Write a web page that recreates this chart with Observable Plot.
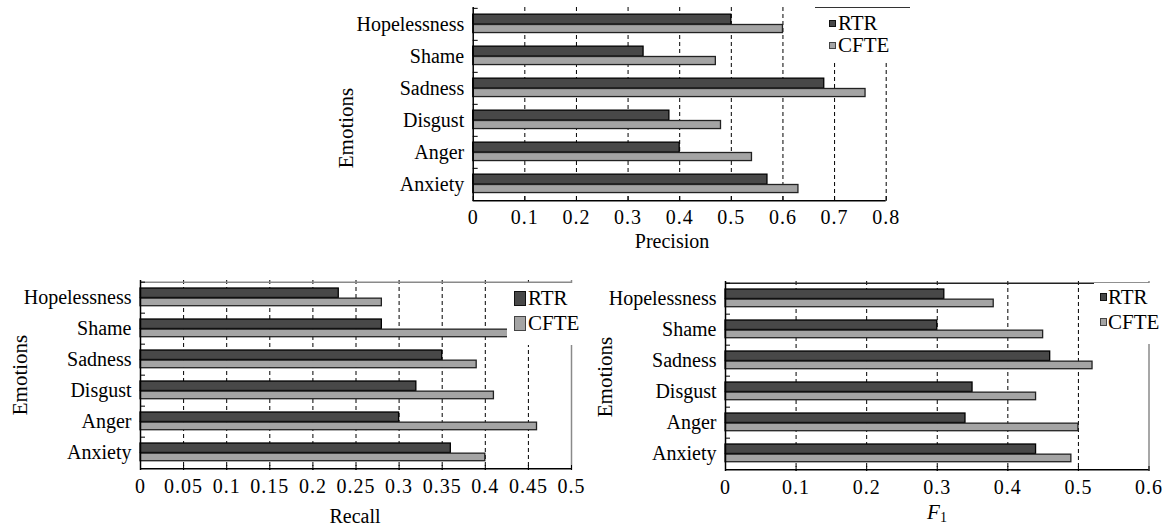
<!DOCTYPE html>
<html>
<head>
<meta charset="utf-8">
<script src="https://cdn.jsdelivr.net/npm/d3@7"></script>
<script src="https://cdn.jsdelivr.net/npm/@observablehq/plot@0.6"></script>
<style>
  html, body { margin: 0; padding: 0; background: white; }
  #root { position: relative; width: 1168px; height: 528px; overflow: hidden; background: white;
          font-family: "Liberation Serif", "DejaVu Serif", serif; color: black; }
  #root div, #root span, #root i { font-family: "Liberation Serif", "DejaVu Serif", serif; }
  #root svg text { font-family: "Liberation Serif", "DejaVu Serif", serif !important; }
  .panel { position: absolute; }
  .lbl { position: absolute; white-space: nowrap; line-height: 1; }
  .legend { position: absolute; background: white; }
</style>
</head>
<body>
<div id="root"></div>
<script>
// ---------- data ----------
const emotions = ["Hopelessness", "Shame", "Sadness", "Disgust", "Anger", "Anxiety"];
const seriesNames = ["RTR", "CFTE"];
const precisionRTR  = [0.50, 0.33, 0.68, 0.38, 0.40, 0.57];
const precisionCFTE = [0.60, 0.47, 0.76, 0.48, 0.54, 0.63];
const recallRTR     = [0.23, 0.28, 0.35, 0.32, 0.30, 0.36];
const recallCFTE    = [0.28, 0.43, 0.39, 0.41, 0.46, 0.40];
const f1RTR         = [0.31, 0.30, 0.46, 0.35, 0.34, 0.44];
const f1CFTE        = [0.38, 0.45, 0.52, 0.44, 0.50, 0.49];
const precisionTicks = [0, 0.1, 0.2, 0.3, 0.4, 0.5, 0.6, 0.7, 0.8];
const recallTicks    = [0, 0.05, 0.1, 0.15, 0.2, 0.25, 0.3, 0.35, 0.4, 0.45, 0.5];
const f1Ticks        = [0, 0.1, 0.2, 0.3, 0.4, 0.5, 0.6];

const DARK = "#484848", LIGHT = "#a4a4a4";
const FONT = "Liberation Serif, DejaVu Serif, serif";
const root = document.getElementById("root");

function panel(cfg) {
  const {left, top, width, height, ml, mr, mt, mb, rtr, cfte, ticks, border, topLine, tickSpacing} = cfg;
  const bw = (height - mt - mb) / emotions.length;
  const rows = emotions.flatMap((e, i) => [
    {emotion: e, series: seriesNames[0], value: rtr[i]},
    {emotion: e, series: seriesNames[1], value: cfte[i]}
  ]);
  const max = ticks[ticks.length - 1];
  const marks = [
    Plot.ruleX(ticks.slice(1, border === "dashed" ? undefined : -1), {stroke: "black", strokeWidth: 1, strokeDasharray: "4,3"}),
  ];
  if (border !== "dashed") marks.push(Plot.ruleX([max], {stroke: "#8a8a8a", strokeWidth: 1.5}));
  if (topLine) marks.push(Plot.ruleY([emotions[0]], {dy: -bw / 2, stroke: topLine, strokeWidth: 1.5}));
  marks.push(
    Plot.barX(rows.filter(d => d.series === seriesNames[0]), {x: "value", y: "emotion", fill: DARK, stroke: "black", strokeWidth: 1.3, insetTop: 0.19 * bw, insetBottom: 0.49 * bw}),
    Plot.barX(rows.filter(d => d.series === seriesNames[1]), {x: "value", y: "emotion", fill: LIGHT, stroke: "#222", strokeWidth: 1.3, insetTop: 0.51 * bw, insetBottom: 0.23 * bw}),
    Plot.ruleX([0], {stroke: "black", strokeWidth: 1.5}),
    Plot.ruleY([emotions[emotions.length - 1]], {dy: bw / 2, stroke: "black", strokeWidth: 1.5}),
    Plot.axisX({ticks, tickSize: -5, tickFormat: () => "", label: null}),
    Plot.axisX({ticks, tickSize: 0, tickPadding: 8, label: null, tickFormat: d => String(d), fontSize: 20, fontFamily: FONT}),
    Plot.axisY({tickSize: 0, tickPadding: 9, label: null, fontSize: 20, fontFamily: FONT}),
    Plot.axisY({tickSize: -5, tickFormat: () => "", dy: -bw / 2, label: null})
  );
  const chart = Plot.plot({
    width, height,
    marginLeft: ml, marginRight: mr, marginTop: mt, marginBottom: mb,
    style: {fontFamily: FONT, fontSize: "20px", color: "black", background: "transparent"},
    x: {domain: [0, max], label: null},
    y: {domain: emotions, padding: 0, label: null},
    marks
  });
  chart.setAttribute("font-family", FONT);
  chart.style.fontFamily = FONT;
  chart.querySelectorAll("text").forEach(t => {
    t.setAttribute("font-family", FONT);
    t.style.fontFamily = FONT;
  });
  if (tickSpacing) {
    chart.querySelectorAll("[aria-label='x-axis tick label'] text").forEach(t => t.setAttribute("letter-spacing", tickSpacing));
  }
  const div = document.createElement("div");
  div.className = "panel";
  div.style.left = left + "px";
  div.style.top = top + "px";
  div.appendChild(chart);
  root.appendChild(div);
}

function label(html, x, y, size, rotate) {
  const d = document.createElement("div");
  d.className = "lbl";
  d.innerHTML = html;
  d.style.left = x + "px";
  d.style.top = y + "px";
  d.style.fontSize = size + "px";
  d.style.transform = "translate(-50%, -50%)" + (rotate ? " rotate(-90deg)" : "");
  root.appendChild(d);
}

function legend(cfg) {
  const {x, y, w, h, topBorder, rowsY, swX, swW, swH, textX, size} = cfg;
  const box = document.createElement("div");
  box.className = "legend";
  box.style.left = x + "px"; box.style.top = y + "px";
  box.style.width = w + "px"; box.style.height = h + "px";
  if (topBorder) box.style.borderTop = topBorder;
  const fills = [DARK, LIGHT], strokes = ["#111", "#444"];
  seriesNames.forEach((name, i) => {
    const sw = document.createElement("div");
    sw.style.position = "absolute";
    sw.style.left = (swX - x) + "px";
    sw.style.top = (rowsY[i] - y - swH / 2) + "px";
    sw.style.width = swW + "px"; sw.style.height = swH + "px";
    sw.style.background = fills[i];
    sw.style.border = "1.3px solid " + strokes[i];
    sw.style.boxSizing = "border-box";
    box.appendChild(sw);
    const t = document.createElement("div");
    t.className = "lbl";
    t.textContent = name;
    t.style.left = (textX - x) + "px";
    t.style.top = (rowsY[i] - y) + "px";
    t.style.fontSize = size + "px";
    t.style.transform = "translateY(-50%)";
    box.appendChild(t);
  });
  root.appendChild(box);
}

// Top panel: Precision
panel({left: 330, top: 0, width: 580, height: 260, ml: 142.7, mr: 24.3, mt: 7, mb: 59,
       rtr: precisionRTR, cfte: precisionCFTE, ticks: precisionTicks, border: "dashed", topLine: null, tickSpacing: "1px"});
// Bottom-left: Recall
panel({left: 0, top: 270, width: 590, height: 258, ml: 140, mr: 19, mt: 10, mb: 58,
       rtr: recallRTR, cfte: recallCFTE, ticks: recallTicks, border: "solid", topLine: "#8a8a8a", tickSpacing: "1px"});
// Bottom-right: F1
panel({left: 590, top: 270, width: 578, height: 258, ml: 135, mr: 19.5, mt: 11, mb: 57,
       rtr: f1RTR, cfte: f1CFTE, ticks: f1Ticks, border: "solid", topLine: "#222", tickSpacing: "1px"});

// axis titles
label("Emotions", 346, 128, 21, true);
label("Precision", 672, 241, 20);
label("Emotions", 20, 375, 21, true);
label("Recall", 355, 516, 20);
label("Emotions", 605, 377, 21, true);
label("<i>F</i><span style='font-size:14px;position:relative;top:3px'>1</span>", 937, 512, 21);

// legends
legend({x: 815, y: 7, w: 95, h: 54, topBorder: "1.5px solid #333", rowsY: [22, 44], swX: 829, swW: 7, swH: 7, textX: 838, size: 21});
legend({x: 507, y: 283, w: 83, h: 62, rowsY: [298, 323], swX: 514, swW: 12, swH: 15, textX: 528, size: 21});
legend({x: 1094, y: 283, w: 74, h: 61, rowsY: [297, 322], swX: 1100, swW: 7, swH: 8, textX: 1108, size: 21});
</script>
</body>
</html>
